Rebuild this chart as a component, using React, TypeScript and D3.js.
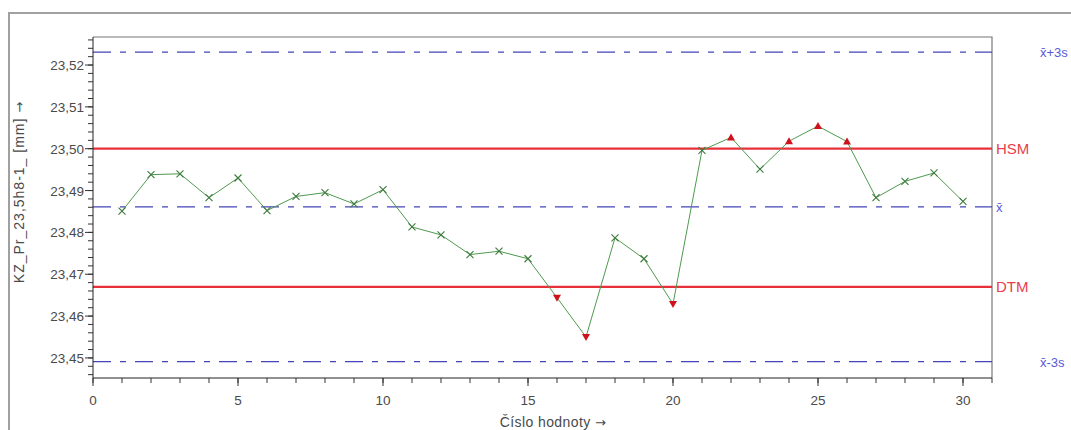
import React, { useEffect, useRef } from 'react';
import * as d3 from 'd3';

// measured values, sample number 1..30
const sampleNo = [1, 2, 3, 4, 5, 6, 7, 8, 9, 10, 11, 12, 13, 14, 15, 16, 17, 18, 19, 20, 21, 22, 23, 24, 25, 26, 27, 28, 29, 30];
const values = [
  23.4851, 23.4938, 23.494, 23.4883, 23.493, 23.4852, 23.4886, 23.4895, 23.4868, 23.4902,
  23.4813, 23.4794, 23.4747, 23.4755, 23.4737, 23.4644, 23.455, 23.4787, 23.4737, 23.4629,
  23.4996, 23.5027, 23.4951, 23.5018, 23.5054, 23.5017, 23.4883, 23.4922, 23.4942, 23.4874,
];

// limits
const HSM = 23.5;
const DTM = 23.467;
const mean = 23.4861;
const ucl = 23.5231;
const lcl = 23.4491;

const xTicks = [0, 5, 10, 15, 20, 25, 30];
const yTicks = [23.45, 23.46, 23.47, 23.48, 23.49, 23.5, 23.51, 23.52];

const App = () => {
  const ref = useRef<SVGSVGElement | null>(null);

  useEffect(() => {
    const svg = d3.select(ref.current);
    svg.selectAll('*').remove();

    const left = 93, right = 992, top = 37, bottom = 378;
    const font = 'Liberation Sans, Arial, sans-serif';
    const blue = '#4444b8';
    const red = '#e8303a';
    const grey = '#4a4a4a';

    const x = d3.scaleLinear().domain([0, 31]).range([left, right]);
    const y = d3.scaleLinear().domain([23.4452, 23.5267]).range([bottom, top]);

    // outer frame
    svg.append('path')
      .attr('d', `M9,430 V13 H1071`)
      .attr('fill', 'none')
      .attr('stroke', '#a0a0a0')
      .attr('stroke-width', 2);

    // plot frame (top + right)
    svg.append('path')
      .attr('d', `M${left},${top} H${right} V${bottom}`)
      .attr('fill', 'none')
      .attr('stroke', '#777')
      .attr('stroke-width', 1.2);

    // limit lines
    const dashed = [ucl, mean, lcl];
    svg.selectAll('line.ctl').data(dashed).join('line')
      .attr('class', 'ctl')
      .attr('x1', left).attr('x2', right)
      .attr('y1', d => y(d)).attr('y2', d => y(d))
      .attr('stroke', blue)
      .attr('stroke-width', 1.3)
      .attr('stroke-dasharray', '18,9,6,9');

    svg.selectAll('line.tol').data([HSM, DTM]).join('line')
      .attr('class', 'tol')
      .attr('x1', left).attr('x2', right)
      .attr('y1', d => y(d)).attr('y2', d => y(d))
      .attr('stroke', red)
      .attr('stroke-width', 2.2);

    // data line
    const pts = sampleNo.map((n, i) => ({ n, v: values[i] }));
    const line = d3.line<{ n: number; v: number }>()
      .x(d => x(d.n))
      .y(d => y(d.v));

    svg.append('path')
      .datum(pts)
      .attr('d', line)
      .attr('fill', 'none')
      .attr('stroke', '#4f9a4f')
      .attr('stroke-width', 1);

    // markers
    const inside = pts.filter(d => d.v <= HSM && d.v >= DTM);
    const above = pts.filter(d => d.v > HSM);
    const below = pts.filter(d => d.v < DTM);

    svg.append('g').selectAll('path').data(inside).join('path')
      .attr('d', d => {
        const cx = x(d.n), cy = y(d.v), s = 3.5;
        return `M${cx - s},${cy - s}L${cx + s},${cy + s}M${cx - s},${cy + s}L${cx + s},${cy - s}`;
      })
      .attr('stroke', '#3b7a3b')
      .attr('stroke-width', 1.1)
      .attr('fill', 'none');

    svg.append('g').selectAll('path').data(above).join('path')
      .attr('d', d => {
        const cx = x(d.n), cy = y(d.v);
        return `M${cx - 4},${cy + 3}L${cx + 4},${cy + 3}L${cx},${cy - 4}Z`;
      })
      .attr('fill', '#d0101a');

    svg.append('g').selectAll('path').data(below).join('path')
      .attr('d', d => {
        const cx = x(d.n), cy = y(d.v);
        return `M${cx - 4},${cy - 3}L${cx + 4},${cy - 3}L${cx},${cy + 4}Z`;
      })
      .attr('fill', '#d0101a');

    // y axis
    const yAxis = svg.append('g');
    yAxis.append('line')
      .attr('x1', left).attr('x2', left).attr('y1', top).attr('y2', bottom)
      .attr('stroke', '#222');
    const minorY = d3.range(23.446, 23.5265, 0.002);
    yAxis.selectAll('line.mn').data(minorY).join('line')
      .attr('class', 'mn')
      .attr('x1', left - 5).attr('x2', left)
      .attr('y1', d => y(d)).attr('y2', d => y(d))
      .attr('stroke', '#333');
    yAxis.selectAll('line.mj').data(yTicks).join('line')
      .attr('class', 'mj')
      .attr('x1', left - 8).attr('x2', left)
      .attr('y1', d => y(d)).attr('y2', d => y(d))
      .attr('stroke', '#333');
    yAxis.selectAll('text').data(yTicks).join('text')
      .attr('x', left - 9)
      .attr('y', d => y(d) + 5)
      .attr('text-anchor', 'end')
      .attr('font-family', font)
      .attr('font-size', 13.5)
      .attr('fill', grey)
      .text(d => d3.format('.2f')(d).replace('.', ','));

    // x axis
    const xAxis = svg.append('g');
    xAxis.append('line')
      .attr('x1', left).attr('x2', right).attr('y1', bottom).attr('y2', bottom)
      .attr('stroke', '#222');
    xAxis.selectAll('line.mn').data(d3.range(0, 32)).join('line')
      .attr('class', 'mn')
      .attr('x1', d => x(d)).attr('x2', d => x(d))
      .attr('y1', bottom).attr('y2', bottom + 5)
      .attr('stroke', '#333');
    xAxis.selectAll('line.mj').data(xTicks).join('line')
      .attr('class', 'mj')
      .attr('x1', d => x(d)).attr('x2', d => x(d))
      .attr('y1', bottom).attr('y2', bottom + 8)
      .attr('stroke', '#333');
    xAxis.selectAll('text').data(xTicks).join('text')
      .attr('x', d => x(d))
      .attr('y', bottom + 27)
      .attr('text-anchor', 'middle')
      .attr('font-family', font)
      .attr('font-size', 13.5)
      .attr('fill', grey)
      .text(d => d);

    // axis titles
    const xt = svg.append('text')
      .attr('x', 553).attr('y', 427)
      .attr('text-anchor', 'middle')
      .attr('font-family', font)
      .attr('font-size', 14)
      .attr('letter-spacing', 0.4)
      .attr('fill', grey);
    xt.append('tspan').text('Číslo hodnoty ');
    xt.append('tspan').attr('font-family', 'DejaVu Sans').attr('font-size', 13).text('→');

    const yt = svg.append('text')
      .attr('transform', 'translate(24,192) rotate(-90)')
      .attr('text-anchor', 'middle')
      .attr('font-family', font)
      .attr('font-size', 14)
      .attr('letter-spacing', 1)
      .attr('fill', grey);
    yt.append('tspan').text('KZ_Pr_23,5h8-1_ [mm] ');
    yt.append('tspan').attr('font-family', 'DejaVu Sans').attr('font-size', 13).text('→');

    // right labels
    const labels = [
      { t: 'x̄+3s', v: ucl, c: blue, dx: 1040 },
      { t: 'HSM', v: HSM, c: red, dx: 996 },
      { t: 'x̄', v: mean, c: blue, dx: 996 },
      { t: 'DTM', v: DTM, c: red, dx: 996 },
      { t: 'x̄-3s', v: lcl, c: blue, dx: 1040 },
    ];
    svg.selectAll('text.lbl').data(labels).join('text')
      .attr('class', 'lbl')
      .attr('x', d => d.dx)
      .attr('y', d => y(d.v) + 5)
      .attr('font-family', font)
      .attr('font-size', d => (d.c === red ? 15 : 13))
      .attr('fill', d => (d.c === red ? '#e8404a' : '#5a5ad8'))
      .text(d => d.t);
  }, []);

  return (
    <svg ref={ref} width={1071} height={430} style={{ position: 'absolute', left: 0, top: 0, background: '#fff' }} />
  );
};

export default App;
